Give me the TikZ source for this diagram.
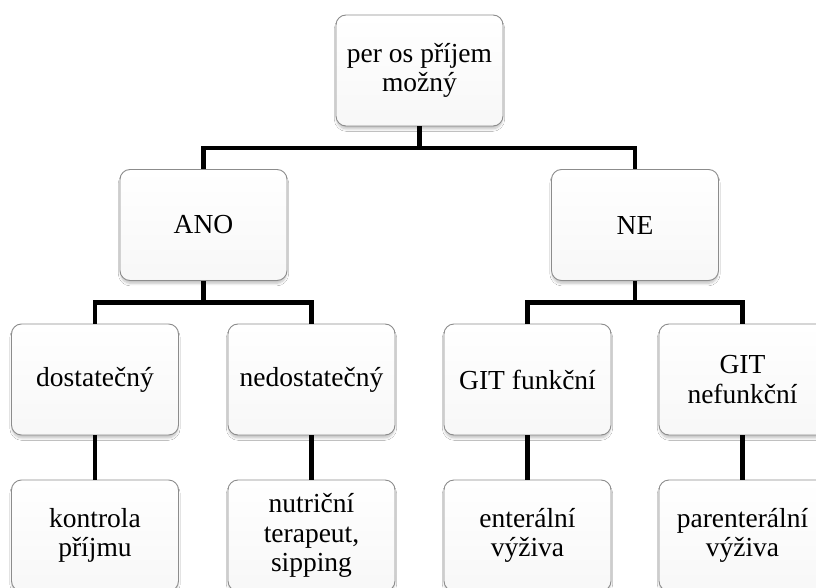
\documentclass[tikz,border=0pt]{standalone}
\usepackage{fontspec}
\setmainfont{Liberation Serif}
\usetikzlibrary{shadows.blur,calc}
\begin{document}
\begin{tikzpicture}[x=1pt,y=-1pt,
  box/.style={draw=black!45, line width=0.9pt, rounded corners=10pt,
    top color=white, bottom color=black!3,
    minimum width=167pt, minimum height=111pt, inner sep=2pt,
    align=center, font=\fontsize{27.5}{29.5}\selectfont,
    blur shadow={shadow xshift=0pt, shadow yshift=-3.5pt, shadow scale=0.99, shadow blur radius=2.5pt, shadow blur steps=8, shadow opacity=25}},
  conn/.style={line width=4.6pt, line join=miter}]
\clip (0,0) rectangle (816,588);
\fill[white] (0,0) rectangle (816,588);
% boxes
\node[box] (top) at (419.5,70.5) {per os příjem\\možný};
\node[box] (ano) at (203.5,225) {ANO};
\node[box] (ne) at (635,225) {NE};
\node[box] (dost) at (95,379.5) {dostatečný};
\node[box] (nedost) at (311.5,379.5) {nedostatečný};
\node[box] (gitf) at (527.5,379.5) {GIT funkční};
\node[box] (gitn) at (742.5,379.5) {GIT\\nefunkční};
\node[box] (kontr) at (95,535.5) {kontrola\\příjmu};
\node[box] (nutr) at (311.5,535.5) {nutriční\\terapeut,\\sipping};
\node[box] (ent) at (527.5,535.5) {enterální\\výživa};
\node[box] (par) at (742.5,535.5) {parenterální\\výživa};
% connectors
\draw[conn] (top.south) -- ++(0,21.5) coordinate (m1) -| (ano.north);
\draw[conn] (m1) -| (ne.north);
\draw[conn] (ano.south) -- ++(0,21.5) coordinate (m2) -| (dost.north);
\draw[conn] (m2) -| (nedost.north);
\draw[conn] (ne.south) -- ++(0,21.5) coordinate (m3) -| (gitf.north);
\draw[conn] (m3) -| (gitn.north);
\draw[conn] (dost.south) -- (kontr.north);
\draw[conn] (nedost.south) -- (nutr.north);
\draw[conn] (gitf.south) -- (ent.north);
\draw[conn] (gitn.south) -- (par.north);
\end{tikzpicture}
\end{document}
